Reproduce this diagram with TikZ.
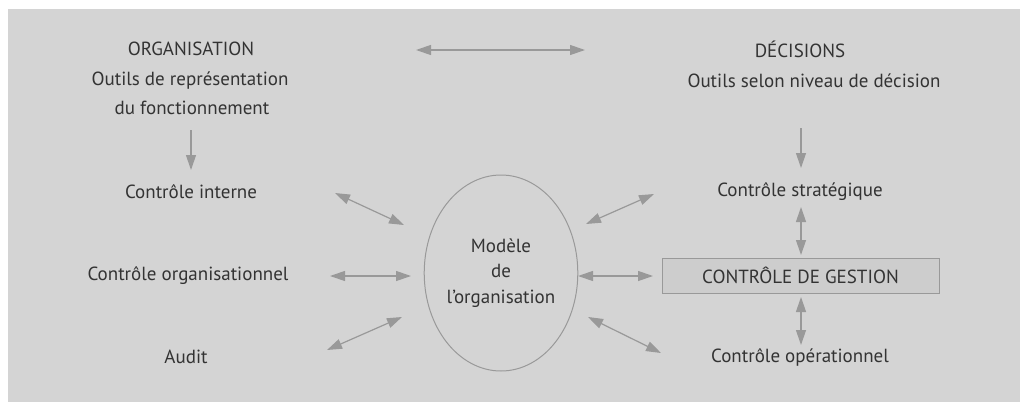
\documentclass[tikz,border=0pt]{standalone}
\usepackage{fontspec}
\setmainfont{PT Sans}
\usetikzlibrary{arrows.meta,shapes.geometric}
\definecolor{bg}{HTML}{D4D4D4}
\definecolor{arr}{HTML}{999999}
\definecolor{txt}{HTML}{333333}
\definecolor{boxfill}{HTML}{CDCDCD}
\tikzset{
  lbl/.style={font=\fontsize{19}{25.5}\selectfont, text=txt, inner sep=0pt},
  link/.style={draw=arr, line width=1.2pt, {Triangle[length=15pt,width=10pt]}-{Triangle[length=15pt,width=10pt]}},
  down/.style={draw=arr, line width=1.2pt, -{Triangle[length=15pt,width=10pt]}}
}
\begin{document}
\begin{tikzpicture}[x=1pt,y=-1pt]
\useasboundingbox (0,0) rectangle (1020,402);
\fill[bg] (8,9) rectangle (1020,402);
% left column
\node[lbl] (org) at (191,49) {ORGANISATION};
\node[lbl] (out1) at (190,81) {Outils de représentation};
\node[lbl] (out1b) at (192,108) {du fonctionnement};
\node[lbl] (ci) at (191,192) {Contrôle interne};
\node[lbl] (co) at (188,276) {Contrôle organisationnel};
\node[lbl] (au) at (186,357) {Audit};
% right column
\node[lbl] (dec) at (800,49) {DÉCISIONS};
\node[lbl] (out2) at (814,81) {Outils selon niveau de décision};
\node[lbl] (cs) at (800,192) {Contrôle stratégique};
\node[lbl, draw=arr, fill=boxfill, line width=1pt, minimum width=277pt, minimum height=35pt] (cg) at (800.5,275.5) {CONTRÔLE DE GESTION};
\node[lbl] (cop) at (800,357) {Contrôle opérationnel};
% centre
\node[lbl, ellipse, draw=arr, line width=1pt, minimum width=150pt, minimum height=196pt, align=center] (mod) at (501,273) {Modèle\\de\\l’organisation};
% coordinates for connector ends
\coordinate (t1) at (416,50); \coordinate (t2) at (585,50);
\coordinate (d1a) at (191,130); \coordinate (d1b) at (191,170);
\coordinate (d2a) at (801,128); \coordinate (d2b) at (801,168);
\coordinate (v1a) at (801,207); \coordinate (v1b) at (801,255);
\coordinate (v2a) at (801,297); \coordinate (v2b) at (801,345);
\coordinate (l1a) at (335,193); \coordinate (l1b) at (404,225);
\coordinate (l2a) at (330,276); \coordinate (l2b) at (411,276);
\coordinate (l3a) at (327,350); \coordinate (l3b) at (402,317);
\coordinate (r1a) at (586,224); \coordinate (r1b) at (654,194);
\coordinate (r2a) at (578,276); \coordinate (r2b) at (653,276);
\coordinate (r3a) at (588,317); \coordinate (r3b) at (661,353);
% connectors
\draw[link] (t1) -- (t2);
\draw[down] (d1a) -- (d1b);
\draw[down] (d2a) -- (d2b);
\draw[link] (v1a) -- (v1b);
\draw[link] (v2a) -- (v2b);
\draw[link] (l1a) -- (l1b);
\draw[link] (l2a) -- (l2b);
\draw[link] (l3a) -- (l3b);
\draw[link] (r1a) -- (r1b);
\draw[link] (r2a) -- (r2b);
\draw[link] (r3a) -- (r3b);
\end{tikzpicture}
\end{document}
